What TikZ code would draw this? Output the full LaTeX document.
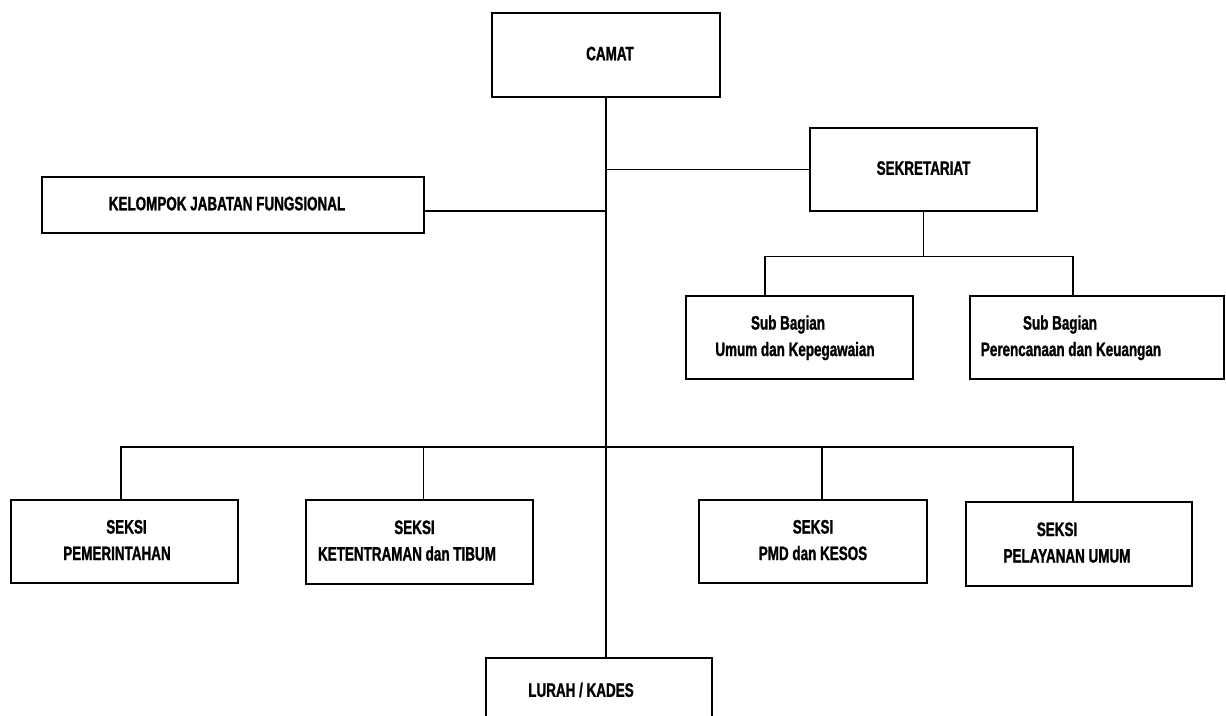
\documentclass[tikz,border=0pt]{standalone}
\usepackage{fontspec}
\setmainfont{Liberation Sans}[FakeStretch=0.69, BoldFeatures={FakeBold=1.2}]
\newcommand\orgtext[1]{\begin{tabular}{@{}c@{}}#1\end{tabular}}
\begin{document}
\begin{tikzpicture}[x=1pt,y=-1pt,
  box/.style={draw, line width=1.6pt, rectangle, inner sep=0pt,
    font=\fontsize{19.5}{26.5}\selectfont\bfseries},
  link/.style={line width=1.5pt}]
\useasboundingbox (0,0) rectangle (1226,715);
\clip (0,0) rectangle (1226,715);
\fill[white] (0,0) rectangle (1226,715);

\node[box, minimum width=228pt, minimum height=84pt] (camat) at (606,55)
  {\hspace*{8pt}\orgtext{CAMAT}};
\node[box, minimum width=382pt, minimum height=56pt] (kel) at (233,205)
  {\orgtext{KELOMPOK JABATAN FUNGSIONAL}\hspace*{12pt}};
\node[box, minimum width=227pt, minimum height=83pt] (sek) at (923.5,169.5)
  {\orgtext{SEKRETARIAT}};
\node[box, minimum width=227pt, minimum height=83pt] (sub1) at (799.5,337.5)
  {\orgtext{Sub Bagian\hspace*{14pt}\\Umum dan Kepegawaian}\hspace*{9pt}};
\node[box, minimum width=254pt, minimum height=83pt] (sub2) at (1097,337.5)
  {\orgtext{Sub Bagian\hspace*{22pt}\\Perencanaan dan Keuangan}\hspace*{52pt}};
\node[box, minimum width=227pt, minimum height=83pt] (s1) at (124.5,541.5)
  {\orgtext{\hspace*{19pt}SEKSI\\PEMERINTAHAN}\hspace*{15pt}};
\node[box, minimum width=227pt, minimum height=84pt] (s2) at (419.5,542)
  {\orgtext{\hspace*{15pt}SEKSI\\KETENTRAMAN dan TIBUM}\hspace*{25pt}};
\node[box, minimum width=228pt, minimum height=83pt] (s3) at (813,541.5)
  {\orgtext{SEKSI\\PMD dan KESOS}};
\node[box, minimum width=226pt, minimum height=84pt] (s4) at (1079,544)
  {\orgtext{SEKSI\hspace*{20pt}\\PELAYANAN UMUM}\hspace*{24pt}};
\node[box, minimum width=226pt, minimum height=84pt] (lurah) at (599,700)
  {\orgtext{LURAH / KADES}\rule[-25pt]{0pt}{1pt}\hspace*{36pt}};

% trunk
\draw[link] (camat.south) -- (camat.south |- lurah.north);
% sekretariat
\draw[link] (sek.west) -- (sek.west -| camat.south);
% kelompok jabatan fungsional
\coordinate (kelport) at ([yshift=-6pt]kel.east);
\draw[link] (kelport) -- (kelport -| camat.south);
% sub bagian
\coordinate (sb) at ([yshift=-44.5pt]sek.south);
\coordinate (u1) at ([xshift=-34.5pt]sub1.north);
\coordinate (u2) at ([xshift=-24pt]sub2.north);
\draw[link] (sek.south) -- (sb);
\draw[link] (u1) |- (sb) -| (u2);
% seksi
\coordinate (bb) at (606,447);
\coordinate (d1) at ([xshift=-3.5pt]s1.north);
\coordinate (d2) at ([xshift=4pt]s2.north);
\coordinate (d3) at ([xshift=9pt]s3.north);
\coordinate (d4) at ([xshift=-6pt]s4.north);
\draw[link] (d1) |- (bb) -| (d4);
\draw[link] (d2) -- (d2 |- bb);
\draw[link] (d3) -- (d3 |- bb);
\end{tikzpicture}
\end{document}
